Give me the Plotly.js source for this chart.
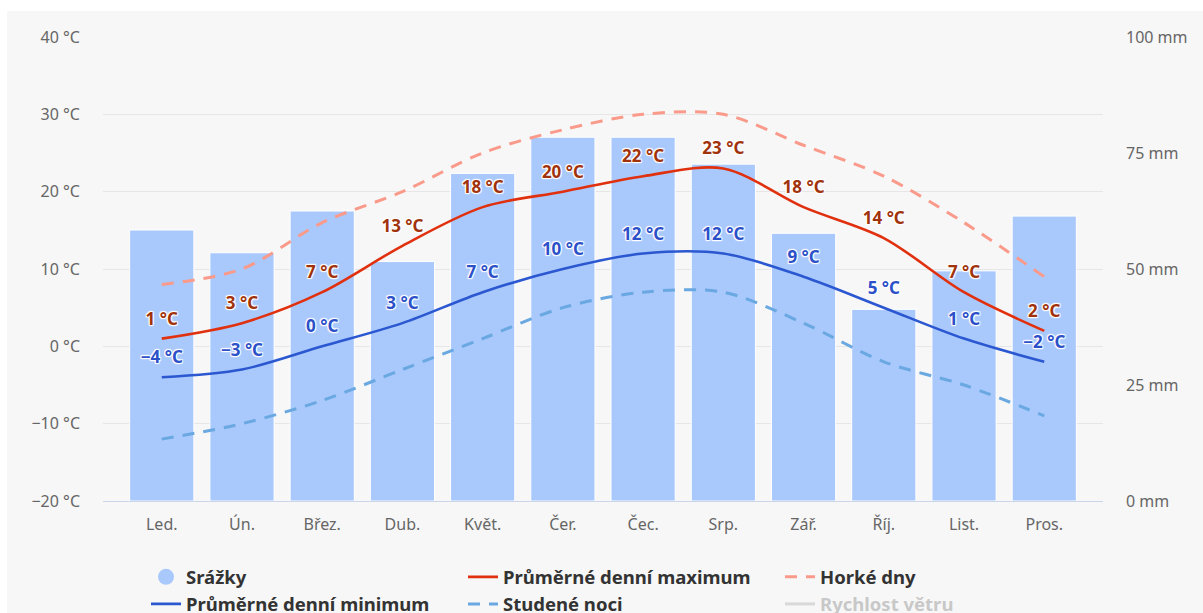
<!DOCTYPE html>
<html><head><meta charset="utf-8">
<script src="https://cdn.plot.ly/plotly-3.0.1.min.js"></script>
<style>html,body{margin:0;padding:0;background:#fff;overflow:hidden;} #chart{position:absolute;left:7px;top:11px;width:1196px;height:602px;}</style>
</head><body><div id="chart"></div>
<script>
const months = ['Led.','Ún.','Břez.','Dub.','Květ.','Čer.','Čec.','Srp.','Zář.','Říj.','List.','Pros.'];
const precipitation = [58.4,53.5,62.5,51.6,70.6,78.4,78.4,72.6,57.7,41.3,49.6,61.4];
const maxTemp = [1,3,7,13,18,20,22,23,18,14,7,2];
const minTemp = [-4,-3,0,3,7,10,12,12,9,5,1,-2];
const hotDays = [8,10,16,20,25,28,30,30,26,22,16,9];
const coldNights = [-12,-10,-7,-3,1,5,7,7,3,-2,-5,-9];
const windSpeed = [null];
const tempTicks = [-20,-10,0,10,20,30,40];
const precipTicks = [0,25,50,75,100];

const FONT = 'Noto Sans';
const fmtT = v => (v < 0 ? '\u2212' + Math.abs(v) : String(v)) + ' \u00B0C';
const SHADOW = '1px 1px 1px #fff, -1px -1px 1px #fff, 1px -1px 1px #fff, -1px 1px 1px #fff, 0 0 2px #fff';
const SM = 0.9;

const traces = [
  {type:'bar', x:months, y:precipitation, yaxis:'y', marker:{color:'#a9c8fc', line:{color:'#ffffff', width:1}},
   showlegend:false, legendgroup:'p', hoverinfo:'skip'},
  {type:'scatter', mode:'markers', x:[null], y:[null], yaxis:'y', name:'Srážky', legendgroup:'p',
   marker:{symbol:'circle', size:18, color:'#a9c8fc'}},
  {type:'scatter', mode:'lines+markers+text', x:months, y:maxTemp, yaxis:'y2', name:'Průměrné denní maximum',
   line:{color:'#e0300e', width:2.6, shape:'spline', smoothing:SM},
   marker:{size:14, color:'rgba(0,0,0,0)'},
   text:maxTemp.map(fmtT), textposition:'top center', cliponaxis:false,
   textfont:{family:FONT, size:17, weight:'bold', color:'#a0320c', shadow:SHADOW}, hoverinfo:'skip'},
  {type:'scatter', mode:'lines', x:months, y:hotDays, yaxis:'y2', name:'Horké dny',
   line:{color:'#fa9a8a', width:3, dash:'12px,9px', shape:'spline', smoothing:SM}, hoverinfo:'skip'},
  {type:'scatter', mode:'lines+markers+text', x:months, y:minTemp, yaxis:'y2', name:'Průměrné denní minimum',
   line:{color:'#2b58d0', width:2.6, shape:'spline', smoothing:SM},
   marker:{size:14, color:'rgba(0,0,0,0)'},
   text:minTemp.map(fmtT), textposition:'top center', cliponaxis:false,
   textfont:{family:FONT, size:17, weight:'bold', color:'#2b50c8', shadow:SHADOW}, hoverinfo:'skip'},
  {type:'scatter', mode:'lines', x:months, y:coldNights, yaxis:'y2', name:'Studené noci',
   line:{color:'#6aa8e2', width:3, dash:'12px,9px', shape:'spline', smoothing:SM}, hoverinfo:'skip'},
  {type:'scatter', mode:'lines', x:[null], y:windSpeed, yaxis:'y2', name:'<span style="color:#999">Rychlost větru</span>',
   visible:'legendonly', line:{color:'#bbbbbb', width:3}}
];

const layout = {
  width:1196, height:602,
  margin:{l:96, r:100, t:26, b:112, autoexpand:false},
  paper_bgcolor:'#f7f7f7', plot_bgcolor:'rgba(0,0,0,0)',
  font:{family:FONT, color:'#666'},
  bargap:0.2,
  showlegend:true,
  xaxis:{type:'category', tickfont:{family:FONT, size:16, color:'#666'}, showgrid:false, automargin:false,
    showline:true, linecolor:'#ccd6eb', linewidth:1, ticks:'', ticklabelstandoff:9, fixedrange:true},
  yaxis:{range:[0,100], side:'right', tickvals:precipTicks, ticktext:precipTicks.map(v=>v+' mm'), automargin:false,
    showgrid:false, zeroline:false, tickfont:{family:FONT, size:16, color:'#666'}, ticklabelstandoff:22, fixedrange:true},
  yaxis2:{range:[-20,40], overlaying:'y', side:'left', tickvals:tempTicks, ticktext:tempTicks.map(fmtT), automargin:false,
    showgrid:true, gridcolor:'#e6e6e6', gridwidth:1, zeroline:false,
    tickfont:{family:FONT, size:16, color:'#666'}, ticklabelstandoff:22, fixedrange:true},
  legend:{orientation:'h', x:0.043, xanchor:'left', y:-0.1235, yanchor:'top',
    entrywidth:272, entrywidthmode:'pixels', itemwidth:30, traceorder:'normal',
    bgcolor:'rgba(0,0,0,0)', font:{family:FONT, size:18.5, weight:'bold', color:'#333'}}
};

Plotly.newPlot('chart', traces, layout, {displayModeBar:false, staticPlot:true});
</script>
</body></html>
